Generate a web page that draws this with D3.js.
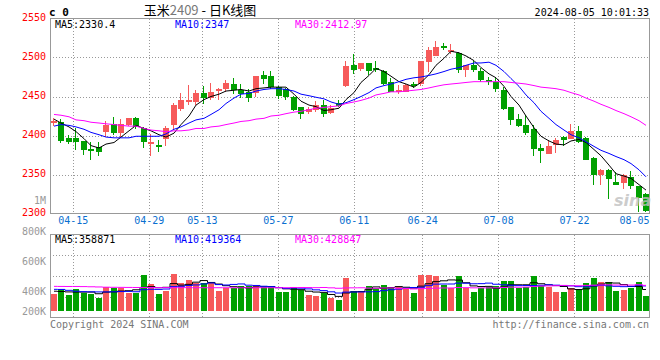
<!DOCTYPE html>
<html lang="zh">
<head>
	<meta charset="utf-8">
	<title>玉米2409 - 日K线图</title>
	<script src="https://d3js.org/d3.v7.min.js"></script>
	<style>
	body { margin: 0; background: #fff; }
	svg text { font-family: "DejaVu Sans Mono", "Liberation Mono", monospace; font-size: 10px; }
	.grid { stroke: #999; stroke-dasharray: 1,2; shape-rendering: crispEdges; }
	.frame { stroke: #999; fill: none; shape-rendering: crispEdges; }
	</style>
</head>
<body>
<script>
	// trading days shown on the chart
	let dates = ["04-10","04-11","04-12","04-15","04-16","04-17","04-18","04-19","04-22","04-23",
		"04-24","04-25","04-26","04-29","04-30","05-06","05-07","05-08","05-09","05-10",
		"05-13","05-14","05-15","05-16","05-17","05-20","05-21","05-22","05-23","05-24",
		"05-27","05-28","05-29","05-30","05-31","06-03","06-04","06-05","06-06","06-07",
		"06-11","06-12","06-13","06-14","06-17","06-18","06-19","06-20","06-21","06-24",
		"06-25","06-26","06-27","06-28","07-01","07-02","07-03","07-04","07-05","07-08",
		"07-09","07-10","07-11","07-12","07-15","07-16","07-17","07-18","07-19","07-22",
		"07-23","07-24","07-25","07-26","07-29","07-30","07-31","08-01","08-02","08-05"];

	let opens = [2415,2417,2397,2397,2393,2383,2385,2405,2415,2403,
		2413,2422,2410,2389,2388,2395,2414,2434,2443,2443,
		2455,2448,2456,2459,2466,2458,2456,2454,2477,2476,
		2462,2459,2450,2437,2430,2433,2439,2429,2442,2463,
		2491,2485,2493,2486,2483,2469,2456,2456,2466,2465,
		2493,2503,2515,2507,2506,2483,2490,2483,2471,2468,
		2458,2436,2421,2413,2408,2384,2377,2388,2398,2396,
		2406,2397,2371,2349,2356,2341,2340,2347,2335,2325];
	let highs = [2423,2421,2401,2409,2393,2392,2392,2419,2424,2421,
		2423,2424,2411,2402,2394,2412,2442,2454,2465,2458,
		2463,2467,2461,2471,2474,2466,2459,2476,2483,2483,
		2464,2461,2451,2437,2436,2444,2445,2439,2445,2495,
		2504,2493,2493,2495,2484,2474,2465,2466,2468,2496,
		2514,2521,2518,2517,2507,2490,2495,2486,2475,2475,
		2462,2437,2427,2426,2413,2389,2394,2397,2400,2415,
		2412,2398,2372,2357,2357,2353,2351,2355,2335,2326];
	let lows = [2412,2391,2389,2382,2375,2368,2374,2398,2401,2398,
		2412,2408,2384,2374,2379,2386,2408,2432,2439,2439,
		2441,2445,2445,2456,2453,2448,2443,2449,2466,2460,
		2447,2445,2431,2421,2427,2430,2424,2428,2436,2462,
		2479,2483,2477,2481,2465,2456,2453,2456,2461,2464,
		2481,2502,2509,2504,2480,2475,2481,2468,2465,2456,
		2433,2414,2411,2401,2374,2365,2377,2377,2387,2395,
		2390,2368,2336,2336,2319,2336,2332,2332,2302,2302];
	let closes = [2418,2393,2392,2392,2381,2380,2378,2414,2403,2415,
		2422,2411,2392,2392,2386,2409,2439,2446,2446,2454,
		2448,2456,2459,2467,2458,2453,2448,2476,2472,2462,
		2450,2449,2433,2428,2434,2439,2428,2435,2438,2489,
		2485,2493,2483,2483,2466,2456,2458,2465,2464,2495,
		2509,2514,2513,2509,2484,2490,2483,2471,2468,2459,
		2434,2419,2412,2403,2382,2380,2387,2394,2394,2406,
		2392,2369,2349,2356,2345,2337,2350,2336,2319,2303];

	// moving averages
	let ma5 = [2421,2416,2411,2405,2396,2387,2384,2389,2391,2398,
		2406,2413,2409,2406,2401,2398,2403,2414,2425,2439,
		2446,2450,2453,2457,2458,2459,2457,2460,2461,2462,
		2462,2462,2453,2444,2439,2437,2432,2433,2435,2446,
		2455,2468,2477,2486,2482,2476,2469,2466,2462,2468,
		2478,2490,2499,2508,2506,2502,2496,2487,2479,2474,
		2463,2450,2439,2425,2410,2399,2393,2389,2388,2393,
		2395,2391,2382,2374,2362,2351,2348,2345,2337,2330];
	let ma10 = [2412,2414,2413,2411,2408,2404,2401,2398,2397,2397,
		2397,2399,2399,2399,2399,2402,2408,2411,2416,2420,
		2422,2427,2433,2441,2448,2453,2454,2457,2459,2460,
		2460,2459,2457,2453,2451,2449,2447,2443,2440,2442,
		2446,2450,2455,2461,2464,2466,2469,2472,2474,2475,
		2477,2479,2482,2485,2487,2490,2493,2493,2494,2490,
		2482,2473,2463,2452,2442,2431,2422,2414,2407,2401,
		2397,2392,2386,2381,2377,2373,2369,2364,2356,2347];
	let ma30 = [2427,2426,2424,2420,2419,2417,2416,2415,2414,2413,
		2412,2412,2409,2407,2406,2405,2406,2406,2407,2409,
		2409,2411,2412,2414,2416,2418,2419,2421,2422,2425,
		2426,2428,2430,2431,2433,2435,2436,2437,2438,2441,
		2443,2445,2448,2452,2454,2456,2456,2457,2458,2459,
		2461,2463,2465,2466,2467,2468,2469,2469,2469,2469,
		2469,2468,2467,2466,2464,2462,2461,2460,2458,2455,
		2452,2448,2444,2440,2436,2432,2428,2424,2419,2413];

	// volume, in thousands
	let volumes = [282,362,265,362,304,282,220,406,379,379,
		304,304,603,451,282,338,620,473,519,463,
		473,463,338,379,379,417,417,417,395,395,
		321,321,395,350,265,248,294,220,181,558,
		338,321,417,379,434,406,406,362,304,603,
		603,586,434,379,586,379,321,379,395,417,
		502,502,379,395,586,417,406,321,321,379,
		362,473,548,490,490,338,350,379,490,248];
	let volMa5 = [330,325,318,315,315,315,287,315,318,333,
		338,354,394,408,389,396,459,433,446,483,
		510,478,451,423,406,395,386,402,405,408,
		389,370,365,356,330,316,310,275,242,300,
		318,324,363,403,378,391,408,397,382,416,
		456,492,506,521,518,473,420,409,412,378,
		403,439,439,439,473,456,437,425,410,369,
		358,371,417,450,473,468,443,409,409,359];
	let volMa10 = [362,360,345,330,322,320,318,318,320,324,
		327,321,355,363,361,367,407,414,427,436,
		453,469,442,435,445,453,432,427,414,407,
		392,378,384,381,369,353,340,320,299,315,
		317,317,319,323,339,355,366,380,393,397,
		424,450,452,452,467,465,456,458,467,448,
		438,430,424,426,426,430,438,432,425,421,
		407,404,421,430,421,413,407,413,430,419];
	let volMa30 = [412,411,410,410,408,405,402,398,396,395,
		394,393,392,392,391,391,390,390,390,389,
		389,389,389,389,388,388,388,389,389,389,
		390,389,393,393,392,390,393,387,380,386,
		387,388,382,379,384,386,379,376,368,373,
		377,382,385,385,392,390,387,386,386,387,
		393,399,398,400,410,416,420,423,428,422,
		423,428,432,436,438,435,434,434,440,429];

	let priceTicks = [2300,2350,2400,2450,2500,2550];
	let priceGrid = [2350,2400,2450,2500];
	let dateTicks = ["04-15","04-29","05-13","05-27","06-11","06-24","07-08","07-22","08-05"];
	let volTicks = [200,400,600,800];
	let priceMaText = ["MA5:2330.4","MA10:2347","MA30:2412.97"];
	let volMaText = ["MA5:358871","MA10:419364","MA30:428847"];
	let maColors = ["#000000","#0000ff","#ff00ff"];

	let upColor = "#f65a5a";
	let downColor = "#00a000";

	// layout
	let left = 50, right = 650;
	let priceTop = 18.5, priceBottom = 213.5;
	let volTop = 234.5, volBottom = 317.5, volBase = 310.7;
	let maX = [55, 175, 295];

	let svg = d3.select("body")
				.append("svg")
				.attr("width", 660)
				.attr("height", 360)
				.style("display", "block");

	let x = d3.scaleBand().domain(dates).range([left, right]);
	let xTick = d3.scalePoint().domain(dates).range([left, right]);
	let y = d3.scaleLinear().domain([2300, 2550]).range([priceBottom, priceTop]);
	let vy = d3.scaleLinear().domain([0, 1290]).range([volBase, volTop]);
	let vLabel = d3.scaleLinear().domain(volTicks).range([310.5, 290.5, 261, 231]);
	let barX = d => Math.round(x(d) + 0.75);

	// grid lines
	let grid = svg.append("g");
	[[priceTop, priceBottom], [volTop, volBottom]].forEach(r => {
		grid.append("g").selectAll("line")
			.data(dateTicks.slice(0, -1))
			.join("line")
			.attr("class", "grid")
			.attr("x1", d => Math.round(xTick(d)) + 0.5)
			.attr("x2", d => Math.round(xTick(d)) + 0.5)
			.attr("y1", r[0])
			.attr("y2", r[1]);
	});
	grid.append("g").selectAll("line")
		.data(priceGrid)
		.join("line")
		.attr("class", "grid")
		.attr("x1", left).attr("x2", right)
		.attr("y1", d => Math.round(y(d)) + 0.5)
		.attr("y2", d => Math.round(y(d)) + 0.5);
	grid.append("g").selectAll("line")
		.data([1, 2, 3])
		.join("line")
		.attr("class", "grid")
		.attr("x1", left).attr("x2", right)
		.attr("y1", k => Math.round(volTop + k * (volBottom - volTop) / 4) + 0.5)
		.attr("y2", k => Math.round(volTop + k * (volBottom - volTop) / 4) + 0.5);

	// frames
	svg.append("rect").attr("class", "frame")
		.attr("x", left + 0.5).attr("y", priceTop)
		.attr("width", right - left - 1).attr("height", priceBottom - priceTop);
	svg.append("rect").attr("class", "frame")
		.attr("x", left + 0.5).attr("y", volTop)
		.attr("width", right - left - 1).attr("height", volBottom - volTop);

	// candles
	let candles = dates.map((d, i) => ({ d: d, o: opens[i], h: highs[i], l: lows[i], c: closes[i] }));
	let cg = svg.append("g").selectAll("g")
				.data(candles)
				.join("g")
				.attr("fill", d => d.c >= d.o ? upColor : downColor)
				.attr("stroke", d => d.c >= d.o ? upColor : downColor);
	cg.append("line")
		.attr("x1", d => barX(d.d) + 2.5)
		.attr("x2", d => barX(d.d) + 2.5)
		.attr("y1", d => y(d.h))
		.attr("y2", d => y(d.l))
		.attr("shape-rendering", "crispEdges");
	cg.append("rect")
		.attr("x", d => barX(d.d))
		.attr("width", 6)
		.attr("y", d => Math.round(y(Math.max(d.o, d.c))))
		.attr("height", d => Math.max(1, Math.round(Math.abs(y(d.o) - y(d.c)))))
		.attr("stroke", "none")
		.attr("shape-rendering", "crispEdges");

	// price moving averages
	let priceLine = d3.line().x((v, i) => barX(dates[i]) + 3).y(v => y(v));
	[ma5, ma10, ma30].forEach((s, k) => {
		svg.append("path")
			.datum(s)
			.attr("fill", "none")
			.attr("stroke", maColors[k])
			.attr("stroke-width", 1)
			.attr("d", priceLine);
	});

	// volume bars
	svg.append("g").selectAll("rect")
		.data(volumes)
		.join("rect")
		.attr("x", (v, i) => barX(dates[i]))
		.attr("width", 6)
		.attr("y", v => vy(v))
		.attr("height", v => volBase - vy(v))
		.attr("fill", (v, i) => closes[i] >= opens[i] ? upColor : downColor)
		.attr("shape-rendering", "crispEdges");

	let volLine = d3.line().x((v, i) => barX(dates[i]) + 3).y(v => vy(v)).curve(d3.curveStep);
	[volMa5, volMa10, volMa30].forEach((s, k) => {
		svg.append("path")
			.datum(s)
			.attr("fill", "none")
			.attr("stroke", maColors[k])
			.attr("stroke-width", 1)
			.attr("d", volLine);
	});

	// axes
	svg.append("g")
		.attr("transform", "translate(46,0)")
		.call(d3.axisLeft(y).tickValues(priceTicks).tickSize(0).tickPadding(0).tickFormat(d3.format("d")))
		.call(g => g.select(".domain").remove())
		.selectAll("text")
		.attr("fill", "#ff0000")
		.attr("dy", "0.2em");
	svg.append("g")
		.attr("transform", "translate(46,0)")
		.call(d3.axisLeft(vLabel).tickValues(volTicks).tickSize(0).tickPadding(0).tickFormat(d => d + "K"))
		.call(g => g.select(".domain").remove())
		.selectAll("text")
		.attr("fill", "#999")
		.attr("dy", "0.35em");
	let xAxis = svg.append("g")
		.attr("transform", "translate(0,214)")
		.call(d3.axisBottom(xTick).tickValues(dateTicks).tickSize(0).tickPadding(3))
		.call(g => g.select(".domain").remove());
	xAxis.selectAll("text").attr("fill", "#0a6fd0");
	xAxis.selectAll(".tick")
		.filter(d => xTick(d) > 630)
		.select("text")
		.attr("text-anchor", "end")
		.attr("x", -1);

	// header texts
	svg.append("text").attr("x", 49).attr("y", 12).attr("dy", "0.35em")
		.style("font-size", "11px").style("font-weight", "bold").text("c 0");
	let title = svg.append("text").attr("x", 200).attr("y", 10).attr("dy", "0.35em")
		.attr("text-anchor", "middle")
		.style("font-family", "'Noto Sans CJK SC', sans-serif").style("font-size", "13px");
	title.append("tspan").text("玉米");
	title.append("tspan").attr("fill", "#777").text("2409");
	title.append("tspan").text(" - 日K线图");
	svg.append("text").attr("x", 649).attr("y", 12).attr("dy", "0.35em")
		.attr("text-anchor", "end").text("2024-08-05 10:01:33");

	svg.append("g").selectAll("text")
		.data(priceMaText)
		.join("text")
		.attr("x", (t, i) => maX[i])
		.attr("y", 24)
		.attr("dy", "0.35em")
		.attr("fill", (t, i) => maColors[i])
		.text(t => t);
	svg.append("g").selectAll("text")
		.data(volMaText)
		.join("text")
		.attr("x", (t, i) => maX[i])
		.attr("y", 239)
		.attr("dy", "0.35em")
		.attr("fill", (t, i) => maColors[i])
		.text(t => t);

	svg.append("text").attr("x", 46).attr("y", 200).attr("dy", "0.35em")
		.attr("text-anchor", "end").attr("fill", "#999").text("1M");

	// watermark
	svg.append("text").attr("x", 614).attr("y", 206)
		.style("font-family", "'DejaVu Sans', sans-serif").style("font-size", "16px")
		.style("font-weight", "bold").style("font-style", "italic")
		.attr("fill", "#c0c0c0").attr("opacity", 0.8).text("sina");

	// footer
	svg.append("text").attr("x", 50).attr("y", 324).attr("dy", "0.35em")
		.attr("fill", "#777").text("Copyright 2024 SINA.COM");
	svg.append("text").attr("x", 649).attr("y", 324).attr("dy", "0.35em")
		.attr("text-anchor", "end").attr("fill", "#777").text("http://finance.sina.com.cn");
</script>
</body>
</html>
